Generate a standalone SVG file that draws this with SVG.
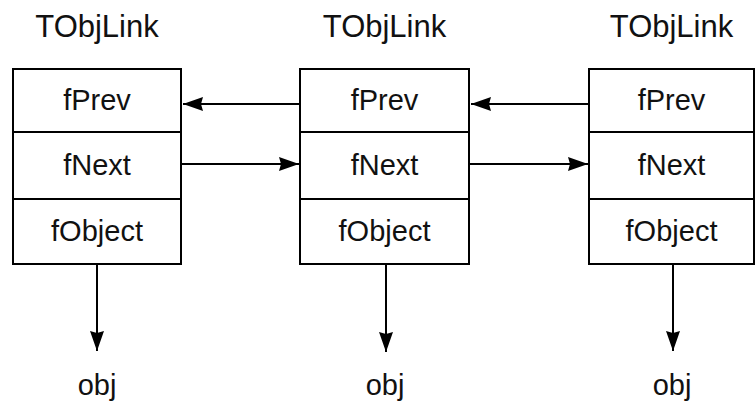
<svg xmlns="http://www.w3.org/2000/svg" width="755" height="403" viewBox="0 0 755 403">
<style>
.box{fill:#fff;stroke:#000;stroke-width:2}
.ln{stroke:#000;stroke-width:2;fill:none}
.t{font-family:"Liberation Sans",Arial,sans-serif;font-size:29px;fill:#111;text-anchor:middle}
.h{font-family:"Liberation Sans",Arial,sans-serif;font-size:31px;fill:#111;text-anchor:middle}
.c{stroke:#000;stroke-width:2;fill:none;marker-end:url(#ah)}
</style>
<defs>
<marker id="ah" markerUnits="userSpaceOnUse" markerWidth="22" markerHeight="16" refX="20" refY="7" orient="auto">
<path d="M0,0 L20,7 L0,14 L2,7 Z" fill="#000"/>
</marker>
</defs>
<rect width="755" height="403" fill="#fff"/>
<g id="node1">
<text class="h" x="97" y="37">TObjLink</text>
<rect class="box" x="13" y="69" width="168" height="195"/>
<line class="ln" x1="13" y1="132" x2="181" y2="132"/>
<line class="ln" x1="13" y1="199" x2="181" y2="199"/>
<text class="t" x="97" y="110">fPrev</text>
<text class="t" x="97" y="175">fNext</text>
<text class="t" x="97" y="241">fObject</text>
</g>
<g id="node2">
<text class="h" x="384.5" y="37">TObjLink</text>
<rect class="box" x="300" y="69" width="169" height="195"/>
<line class="ln" x1="300" y1="132" x2="469" y2="132"/>
<line class="ln" x1="300" y1="199" x2="469" y2="199"/>
<text class="t" x="384.5" y="110">fPrev</text>
<text class="t" x="384.5" y="175">fNext</text>
<text class="t" x="384.5" y="241">fObject</text>
</g>
<g id="node3">
<text class="h" x="671.5" y="37">TObjLink</text>
<rect class="box" x="589" y="69" width="165" height="195"/>
<line class="ln" x1="589" y1="132" x2="754" y2="132"/>
<line class="ln" x1="589" y1="199" x2="754" y2="199"/>
<text class="t" x="671.5" y="110">fPrev</text>
<text class="t" x="671.5" y="175">fNext</text>
<text class="t" x="671.5" y="241">fObject</text>
</g>
<g id="obj1"><text class="t" x="97" y="395">obj</text></g>
<g id="obj2"><text class="t" x="385" y="395">obj</text></g>
<g id="obj3"><text class="t" x="672" y="395">obj</text></g>
<g id="connectors">
<line class="c" x1="300" y1="104" x2="183" y2="104"/>
<line class="c" x1="181" y1="164" x2="299" y2="164"/>
<line class="c" x1="589" y1="104" x2="471" y2="104"/>
<line class="c" x1="469" y1="164" x2="588" y2="164"/>
<line class="c" x1="97" y1="264" x2="97" y2="351"/>
<line class="c" x1="386" y1="264" x2="386" y2="352"/>
<line class="c" x1="673" y1="264" x2="673" y2="351"/>
</g>
</svg>
